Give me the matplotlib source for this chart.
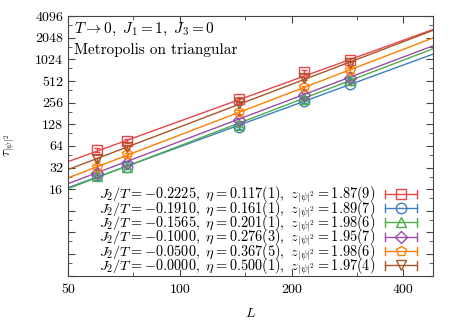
import numpy as np
import matplotlib
matplotlib.use("Agg")
import matplotlib.pyplot as plt
from matplotlib.lines import Line2D
from matplotlib.legend_handler import HandlerBase
from matplotlib.ticker import FixedLocator, NullFormatter

plt.rcParams['font.family'] = 'serif'
plt.rcParams['font.serif'] = ['cmr10']
plt.rcParams['mathtext.fontset'] = 'cm'
plt.rcParams['axes.formatter.use_mathtext'] = True

# data
L = [60, 72, 144, 216, 288]
tau_m02225 = [55.9, 74.7, 286, 686, 1000]
tau_m01910 = [25.0, 33.0, 118, 270, 472]
tau_m01565 = [24.3, 32.8, 124, 286, 525]
tau_m01000 = [27.0, 37.3, 149, 331, 564]
tau_m00500 = [32.8, 48.7, 190, 416, 724]
tau_m00000 = [41.5, 62.0, 249, 555, 919]
rel_err = 0.06

J2T = ['-0.2225', '-0.1910', '-0.1565', '-0.1000', '-0.0500', '-0.0000']
eta = ['0.117(1)', '0.161(1)', '0.201(1)', '0.276(3)', '0.367(5)', '0.500(1)']
zlab = ['1.87(9)', '1.89(7)', '1.98(6)', '1.95(7)', '1.98(6)', '1.97(4)']
fit_z = [1.87, 1.89, 1.98, 1.95, 1.98, 1.97]
fit_A = [0.0257, 0.01031, 0.00703, 0.00929, 0.00993, 0.01348]

series = [tau_m02225, tau_m01910, tau_m01565, tau_m01000, tau_m00500, tau_m00000]
colors = ['#e8474a', '#3d7fbf', '#4daf4a', '#984ea3', '#ff7f00', '#a65628']
markers = ['s', 'o', '^', 'D', 'p', 'v']
msizes = [7, 7.5, 7, 6, 7.5, 7]


class HandlerErr(HandlerBase):
    def create_artists(self, legend, orig, xd, yd, w, h, fs, trans):
        c = orig.get_color()
        y = h / 2 - yd
        x0, x1 = -xd, -xd + w
        line = Line2D([x0, x1], [y, y], color=c, lw=1, transform=trans)
        cap0 = Line2D([x0, x0], [y - 3, y + 3], color=c, lw=1, transform=trans)
        cap1 = Line2D([x1, x1], [y - 3, y + 3], color=c, lw=1, transform=trans)
        mk = Line2D([(x0 + x1) / 2], [y], marker=orig.get_marker(), ms=orig.get_markersize(),
                    mfc='none', mec=c, mew=1, ls='none', transform=trans)
        return [line, cap0, cap1, mk]


fig = plt.figure(figsize=(4.58, 3.21), dpi=100)
ax = fig.add_axes([0.1485, 0.141, 0.7962, 0.809])
ax.set_xscale('log')
ax.set_yscale('log', base=2)
ax.set_xlim(50, 480)
ax.set_ylim(1, 4096)

xs = np.array(ax.get_xlim())
xx = np.geomspace(xs[0], xs[1], 50)
handles = []
labels = []
for i, tau in enumerate(series):
    tau = np.array(tau)
    ax.plot(xx, fit_A[i] * xx ** fit_z[i], color=colors[i], lw=1)
    ax.errorbar(L, tau, yerr=rel_err * tau, fmt=markers[i], ms=msizes[i], mfc='none',
                mec=colors[i], mew=1, ecolor=colors[i], elinewidth=1, capsize=2.5)
    h = Line2D([], [], color=colors[i], marker=markers[i], ms=msizes[i])
    handles.append(h)
    labels.append(r'$J_2/T = %s,\ \eta = %s,\ z_{|\psi|^2} = %s$' % (J2T[i], eta[i], zlab[i]))

ax.legend(handles, labels, loc='lower right', bbox_to_anchor=(1.0, -0.065),
          markerfirst=False, frameon=False,
          fontsize=10.3, labelspacing=-0.42, handlelength=2.2, handletextpad=0.7,
          borderaxespad=0.7, handler_map={Line2D: HandlerErr()})

ax.xaxis.set_major_locator(FixedLocator([50, 100, 200, 400]))
ax.xaxis.set_minor_locator(FixedLocator([75, 150, 300]))
ax.xaxis.set_major_formatter(plt.FixedFormatter(['50', '100', '200', '400']))
ax.xaxis.set_minor_formatter(NullFormatter())
ymaj = [16, 32, 64, 128, 256, 512, 1024, 2048, 4096]
ax.yaxis.set_major_locator(FixedLocator([1, 2, 4, 8] + ymaj))
ax.yaxis.set_minor_locator(FixedLocator([1.5, 3, 6, 12, 24, 48, 96, 192, 384, 768, 1536, 3072]))
ax.yaxis.set_major_formatter(plt.FuncFormatter(lambda v, p: '%d' % v if v >= 16 else ''))
ax.yaxis.set_minor_formatter(NullFormatter())
ax.tick_params(which='both', direction='in', top=True, right=True, labelsize=10, color='#444444')
ax.tick_params(which='major', length=5)
ax.tick_params(which='minor', length=3)
ax.tick_params(axis='x', pad=6)
for s in ax.spines.values():
    s.set_color('#444444')

ax.text(0.016, 0.95, r'$T \rightarrow 0,\ J_1 = 1,\ J_3 = 0$', transform=ax.transAxes,
        fontsize=11, va='center', ha='left')
ax.text(0.016, 0.869, 'Metropolis on triangular', transform=ax.transAxes,
        fontsize=11, va='center', ha='left')
ax.set_xlabel(r'$L$', fontsize=10)
ax.set_ylabel(r'$\tau_{|\psi|^2}$', fontsize=10)
ax.xaxis.set_label_coords(0.5, -0.12)
ax.yaxis.set_label_coords(-0.14, 0.5)

fig.savefig('out.png', dpi=100)
